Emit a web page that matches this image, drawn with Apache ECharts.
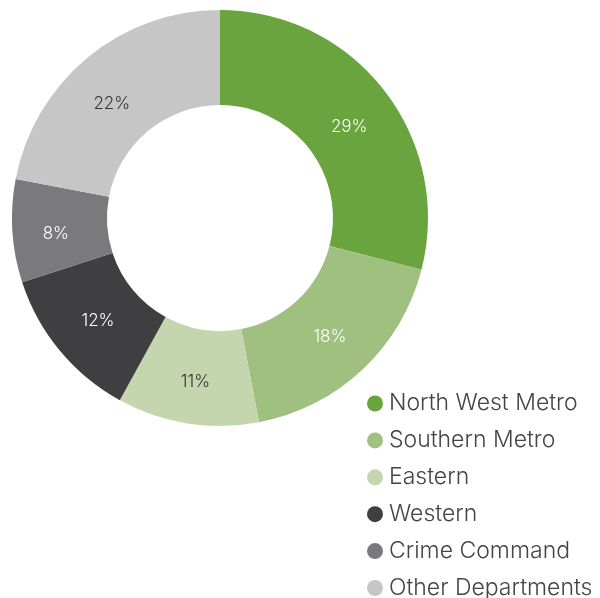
<!DOCTYPE html>
<html>
<head>
<meta charset="utf-8">
<script src="https://cdn.jsdelivr.net/npm/echarts@6/dist/echarts.min.js"></script>
<style>
  html, body { margin: 0; padding: 0; background: #fff; }
  #chart { width: 600px; height: 598px; }
</style>
</head>
<body>
<div id="chart"></div>
<script>
const regions = ['North West Metro', 'Southern Metro', 'Eastern', 'Western', 'Crime Command', 'Other Departments']
const shares = [29, 18, 11, 12, 8, 22]
const colors = ['#69a43e', '#a0c07f', '#c5d5ae', '#3f3f41', '#7a7a7c', '#c6c6c6']
// label colour per slice (dark on the pale slices)
const labelColors = ['#fff', '#fff', '#333', '#fff', '#fff', '#333']
// small nudges so labels sit where the original put them
const labelNudge = [[0, 9], [-2, 0], [1, 2], [4, -1], [-1, 6], [-4, 12]]

const chart = echarts.init(document.getElementById('chart'))

const data = regions.map((name, i) => ({
  name,
  value: shares[i],
  itemStyle: { color: colors[i] },
  label: { color: labelColors[i], offset: labelNudge[i] }
}))

chart.setOption({
  animation: false,
  legend: {
    orient: 'vertical',
    left: 367,
    top: 392,
    height: 400,
    padding: 0,
    itemWidth: 16,
    itemHeight: 16,
    itemGap: 13.9,
    icon: 'circle',
    selectedMode: false,
    textStyle: {
      fontFamily: 'Inter',
      fontWeight: 300,
      fontSize: 23,
      lineHeight: 22,
      color: '#444',
      padding: [0, 0, 0, 1]
    },
    data: regions
  },
  series: [{
    type: 'pie',
    center: [220, 218],
    radius: [113, 208],
    startAngle: 90,
    clockwise: true,
    label: {
      show: true,
      position: 'inside',
      formatter: '{c}%',
      fontFamily: 'Inter',
      fontWeight: 300,
      fontSize: 17
    },
    labelLine: { show: false },
    emphasis: { disabled: true },
    data
  }]
})
</script>
</body>
</html>
